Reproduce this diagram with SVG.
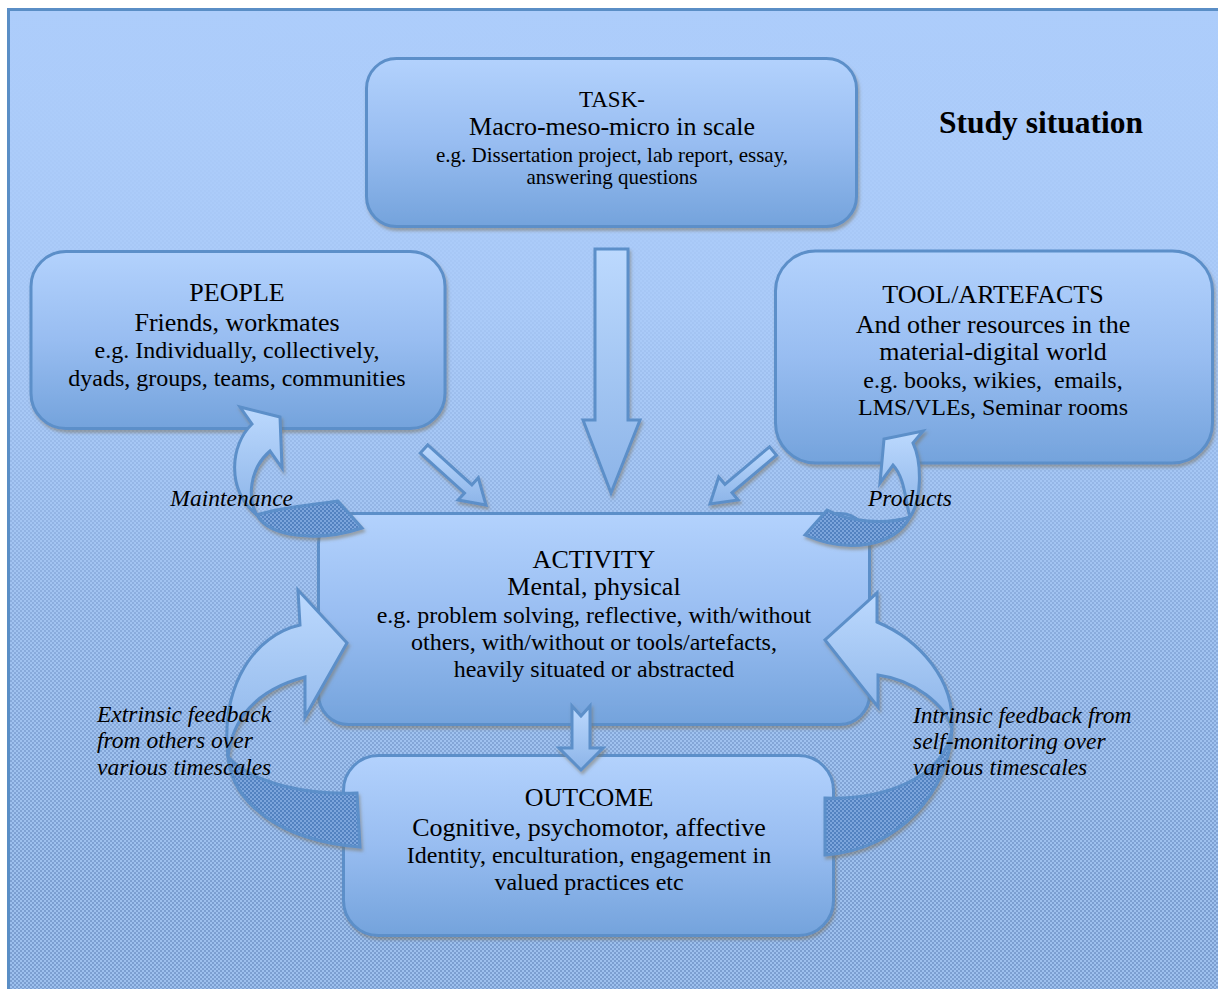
<svg xmlns="http://www.w3.org/2000/svg" width="1218" height="989" viewBox="0 0 1218 989">
<defs>
  <pattern id="chk" width="4" height="4" patternUnits="userSpaceOnUse">
    <rect width="4" height="4" fill="#7b9ed0"/>
    <rect width="2" height="2" fill="#9dc0ee"/>
    <rect x="2" y="2" width="2" height="2" fill="#9dc0ee"/>
  </pattern>
  <pattern id="dchk" width="4" height="4" patternUnits="userSpaceOnUse">
    <rect width="4" height="4" fill="#5282c0"/>
    <rect width="2" height="2" fill="#7ba5dc"/>
    <rect x="2" y="2" width="2" height="2" fill="#7ba5dc"/>
  </pattern>
  <linearGradient id="bgfade" x1="0" y1="0" x2="0" y2="1">
    <stop offset="0" stop-color="#adcdfb" stop-opacity="1"/>
    <stop offset="0.3" stop-color="#adcdfb" stop-opacity="0.85"/>
    <stop offset="0.6" stop-color="#a9c9f7" stop-opacity="0.35"/>
    <stop offset="0.9" stop-color="#a9c9f7" stop-opacity="0"/>
  </linearGradient>
  <linearGradient id="boxg" x1="0" y1="0" x2="0" y2="1">
    <stop offset="0" stop-color="#b3d2fd"/>
    <stop offset="0.5" stop-color="#98bdf1"/>
    <stop offset="1" stop-color="#74a3dc"/>
  </linearGradient>
  <linearGradient id="arrg" x1="0" y1="0" x2="0" y2="1">
    <stop offset="0" stop-color="#bcd9fe"/>
    <stop offset="1" stop-color="#8cb4e8"/>
  </linearGradient>
  <filter id="sh" x="-10%" y="-10%" width="125%" height="130%">
    <feDropShadow dx="1.5" dy="3" stdDeviation="1.5" flood-color="#7a6f5a" flood-opacity="0.5"/>
  </filter>
  <style>
    .box { fill:url(#boxg); stroke:#5b8fc9; stroke-width:3; }
    .arr { fill:url(#arrg); stroke:#5b8fc9; stroke-width:3; stroke-linejoin:miter; }
    .dark { fill:url(#dchk); stroke:#5b8fc9; stroke-width:3; }
    .t { font-family:"Liberation Serif","Times New Roman",serif; fill:#000; text-anchor:middle; }
    .s26 { font-size:26px; } .s24 { font-size:24px; } .s23 { font-size:23px; } .s21 { font-size:21px; }
    .lab { font-family:"Liberation Serif","Times New Roman",serif; font-style:italic; font-size:23.5px; fill:#000; }
    .title { font-family:"Liberation Serif","Times New Roman",serif; font-weight:bold; font-size:31.5px; fill:#000; }
  </style>
</defs>

<g id="background">
  <rect x="8.5" y="9.5" width="1220" height="990" fill="url(#chk)"/>
  <rect x="8.5" y="9.5" width="1220" height="990" fill="url(#bgfade)"/>
  <rect x="8.5" y="9.5" width="1220" height="990" fill="none" stroke="#5a8ec6" stroke-width="3"/>
</g>

<g id="title">
  <text class="title" x="939" y="133">Study situation</text>
</g>

<g id="task">
  <rect class="box" x="366.5" y="58.5" width="490" height="168" rx="30" filter="url(#sh)"/>
  <text class="t s23" x="612" y="107">TASK-</text>
  <text class="t s26" x="612" y="135">Macro-meso-micro in scale</text>
  <text class="t s21" x="612" y="162">e.g. Dissertation project, lab report, essay,</text>
  <text class="t s21" x="612" y="184">answering questions</text>
</g>

<g id="people">
  <rect class="box" x="31" y="251.5" width="414" height="177" rx="35" filter="url(#sh)"/>
  <text class="t s26" x="237" y="301">PEOPLE</text>
  <text class="t s26" x="237" y="331">Friends, workmates</text>
  <text class="t s24" x="237" y="358">e.g. Individually, collectively,</text>
  <text class="t s24" x="237" y="386">dyads, groups, teams, communities</text>
</g>

<g id="tools">
  <rect class="box" x="775.5" y="251" width="437" height="212" rx="40" filter="url(#sh)"/>
  <text class="t s26" x="993" y="303">TOOL/ARTEFACTS</text>
  <text class="t s26" x="993" y="333">And other resources in the</text>
  <text class="t s26" x="993" y="360">material-digital world</text>
  <text class="t s24" x="993" y="388" style="white-space:pre">e.g. books, wikies,  emails,</text>
  <text class="t s24" x="993" y="415">LMS/VLEs, Seminar rooms</text>
</g>

<g id="activity">
  <rect class="box" x="318.5" y="513.5" width="551" height="211" rx="30" filter="url(#sh)"/>
  <text class="t s26" x="594" y="568">ACTIVITY</text>
  <text class="t s26" x="594" y="595">Mental, physical</text>
  <text class="t s24" x="594" y="623">e.g. problem solving, reflective, with/without</text>
  <text class="t s24" x="594" y="650">others, with/without or tools/artefacts,</text>
  <text class="t s24" x="594" y="677">heavily situated or abstracted</text>
</g>

<g id="outcome">
  <rect class="box" x="343.5" y="755.5" width="490" height="180" rx="35" filter="url(#sh)"/>
  <text class="t s26" x="589" y="806">OUTCOME</text>
  <text class="t s26" x="589" y="836">Cognitive, psychomotor, affective</text>
  <text class="t s24" x="589" y="863">Identity, enculturation, engagement in</text>
  <text class="t s24" x="589" y="890">valued practices etc</text>
</g>

<g id="connectors">
  <path class="arr" filter="url(#sh)" d="M595,249 L628,249 L628,420 L640,420 L611,493 L583,420 L595,420 Z"/>
  <path class="arr" filter="url(#sh)" d="M427.7,444.9 L471.9,484.8 L478.3,477.8 L486,505 L458.1,500 L464.5,493 L420.3,453.1 Z"/>
  <path class="arr" filter="url(#sh)" d="M769.5,446.8 L724.9,484.3 L718.7,477 L710,504 L738.1,500 L732,492.7 L776.5,455.2 Z"/>
  <path class="arr" filter="url(#sh)" d="M572,706 L581,716 L590,706 L590,748 L603,748 L581,770 L559,748 L572,748 Z"/>

  <g id="maintenance-arrow" filter="url(#sh)">
    <path class="arr" d="M252,424 C230,445 226,490 257,515 C248,500 248,470 270,451 L282,468 L280,417 L240,407 Z"/>
    <path class="dark" d="M257,515 C270,538 320,542 362,528 L338,501 C310,505 275,508 257,515 Z"/>
  </g>
  <g id="products-arrow" filter="url(#sh)">
    <path class="arr" d="M913,443 C922,462 922,500 910,517 C905,500 905,478 893,465 L880,483 L884,439 L923,431 Z"/>
    <path class="dark" d="M910,517 C895,545 850,555 805,535 L827,510 C850,522 885,525 910,517 Z"/>
  </g>
  <g id="extrinsic-arrow" filter="url(#sh)">
    <path class="arr" d="M300,625 C255,635 220,685 228,757 C232,720 255,690 305,677 L305,717 L347,643 L298,590 Z"/>
    <path class="dark" d="M228,757 C232,800 275,840 360,847 L357,793 C310,795 255,785 228,757 Z"/>
  </g>
  <g id="intrinsic-arrow" filter="url(#sh)">
    <path class="arr" d="M877,622 C920,640 955,680 952,728 C945,705 915,680 878,675 L878,707 L825,640 L877,593 Z"/>
    <path class="dark" d="M952,728 C950,790 900,850 825,855 L825,798 C880,800 945,780 952,728 Z"/>
  </g>
</g>

<g id="labels">
  <text class="lab" x="293" y="506" text-anchor="end">Maintenance</text>
  <text class="lab" x="868" y="506">Products</text>
  <text class="lab" x="97" y="722">Extrinsic feedback</text>
  <text class="lab" x="97" y="748">from others over</text>
  <text class="lab" x="97" y="775">various timescales</text>
  <text class="lab" x="913" y="723">Intrinsic feedback from</text>
  <text class="lab" x="913" y="749">self-monitoring over</text>
  <text class="lab" x="913" y="775">various timescales</text>
</g>
</svg>
